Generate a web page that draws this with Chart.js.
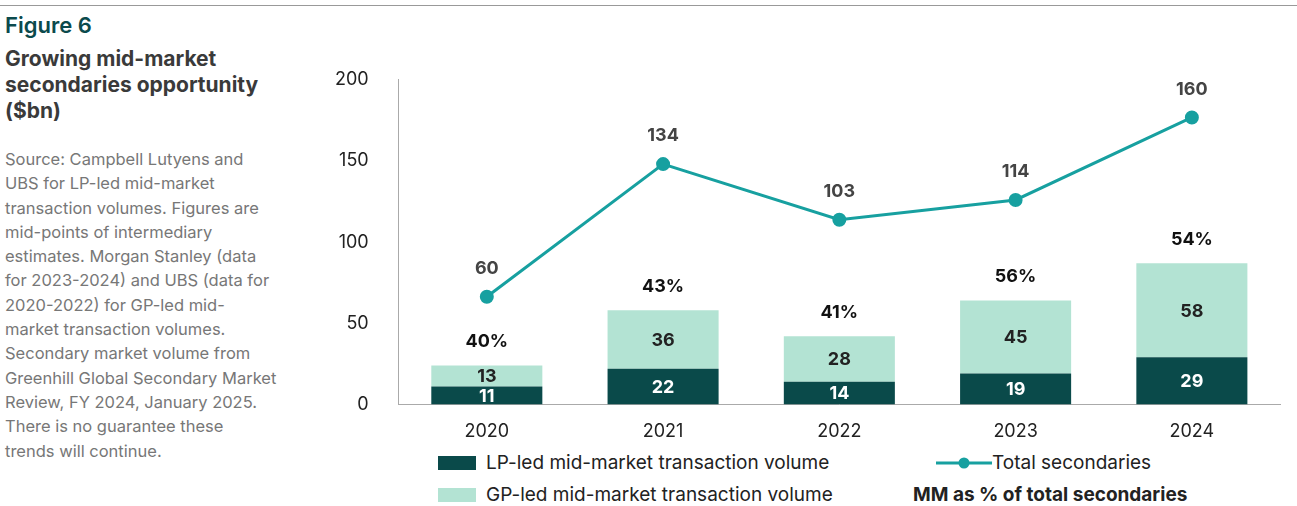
<!DOCTYPE html>
<html><head><meta charset="utf-8">
<script src="https://cdn.jsdelivr.net/npm/chart.js@4"></script>
<style>
body{margin:0;width:1297px;height:506px;background:#fff;font-family:Inter,"Noto Sans",sans-serif;position:relative;overflow:hidden}
#top{position:absolute;left:0;top:5px;width:1297px;height:1px;background:#999}
#fig{position:absolute;left:5px;top:12px;font-size:22px;font-weight:600;color:#0b4a4c}
#title{position:absolute;left:5px;top:46px;width:290px;font-size:21px;font-weight:700;color:#3a3a3a;line-height:26px}
#src{position:absolute;left:5px;top:147px;width:272px;font-size:16.5px;color:#777;line-height:24.3px}
#wrap{position:absolute;left:313px;top:47px;width:977px;height:403px}
.lg{position:absolute;font-size:19px;color:#222;white-space:nowrap}
.sw{display:inline-block;width:38px;height:14px;vertical-align:-1px;margin-right:10px}
</style></head><body>
<div id="top"></div>
<div id="fig">Figure 6</div>
<div id="title">Growing mid-market secondaries opportunity ($bn)</div>
<div id="src">Source: Campbell Lutyens and UBS for LP-led mid-market transaction volumes. Figures are mid-points of intermediary estimates. Morgan Stanley (data for 2023-2024) and UBS (data for 2020-2022) for GP-led mid-market transaction volumes. Secondary market volume from Greenhill Global Secondary Market Review, FY 2024, January 2025. There is no guarantee these trends will continue.</div>
<div id="wrap"><canvas id="c"></canvas></div>
<div class="lg" style="left:438px;top:451px"><span class="sw" style="background:#0a4a4a"></span>LP-led mid-market transaction volume</div>
<div class="lg" style="left:438px;top:483px"><span class="sw" style="background:#b3e3d3"></span>GP-led mid-market transaction volume</div>
<div class="lg" style="left:936px;top:451px"><svg width="56" height="14" style="vertical-align:-1px"><line x1="0" y1="7" x2="56" y2="7" stroke="#17a0a0" stroke-width="3"/><circle cx="28" cy="7" r="5.5" fill="#17a0a0"/></svg>Total secondaries</div>
<div class="lg" style="left:913px;top:483px;font-weight:700">MM as % of total secondaries</div>
<script>
const years=["2020","2021","2022","2023","2024"];
const lpLed=[11,22,14,19,29];
const gpLed=[13,36,28,45,58];
const totalSec=[60,134,103,114,160];
const mmPct=["40%","43%","41%","56%","54%"];
const labels={
 id:'lbl',
 afterDatasetsDraw(ch){
  const c=ch.ctx;c.save();c.textAlign='center';c.textBaseline='middle';
  const m0=ch.getDatasetMeta(0),m1=ch.getDatasetMeta(1),m2=ch.getDatasetMeta(2);
  c.font='bold 18px Inter, sans-serif';
  m0.data.forEach((b,i)=>{c.fillStyle='#fff';c.fillText(lpLed[i],b.x,(b.y+b.base)/2+1);});
  m1.data.forEach((b,i)=>{c.fillStyle='#222';c.fillText(gpLed[i],b.x,(b.y+b.base)/2+1);
   c.fillStyle='#111';c.fillText(mmPct[i],b.x,b.y-24);});
  m2.data.forEach((p,i)=>{c.fillStyle='#444';c.fillText(totalSec[i],p.x,p.y-28);});
  c.restore();}
};
new Chart(document.getElementById('c'),{
 data:{labels:years,datasets:[
  {type:'bar',data:lpLed,backgroundColor:'#0a4a4a',stack:'s',barPercentage:0.63,categoryPercentage:1,order:2},
  {type:'bar',data:gpLed,backgroundColor:'#b3e3d3',stack:'s',barPercentage:0.63,categoryPercentage:1,order:2},
  {type:'line',data:totalSec,yAxisID:'y2',borderColor:'#17a0a0',backgroundColor:'#17a0a0',borderWidth:3,pointRadius:5.5,pointBackgroundColor:'#17a0a0',tension:0,order:1}
 ]},
 options:{responsive:true,maintainAspectRatio:false,animation:false,
  layout:{padding:{top:10,right:10}},
  plugins:{legend:{display:false},tooltip:{enabled:false}},
  scales:{
   x:{stacked:true,grid:{display:false},border:{color:'#aaa'},ticks:{color:'#222',font:{size:18,family:'Inter'},padding:8}},
   y:{stacked:true,min:0,max:200,grid:{display:false},border:{color:'#aaa'},ticks:{stepSize:50,color:'#222',font:{size:18,family:'Inter'},padding:22}},
   y2:{display:false,min:0,max:181}
  }},
 plugins:[labels]
});
</script>
</body></html>
